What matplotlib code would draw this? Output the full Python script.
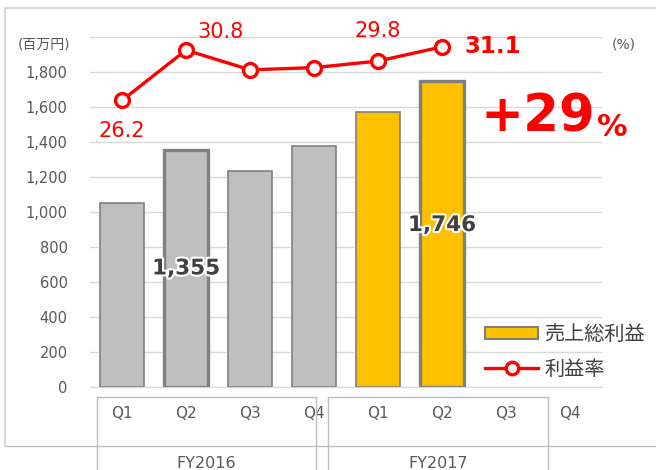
import matplotlib
matplotlib.use("Agg")
import matplotlib.pyplot as plt
import matplotlib.patheffects as pe
from matplotlib.patches import Patch
from matplotlib.lines import Line2D

plt.rcParams['font.family'] = ['DejaVu Sans', 'Noto Sans CJK JP']

W, H = 656, 470

quarters = ['Q1', 'Q2', 'Q3', 'Q4', 'Q1', 'Q2', 'Q3', 'Q4']
years = ['FY2016', 'FY2017']
gross_profit = [1053, 1355, 1236, 1377, 1573, 1746]
profit_rate = [26.2, 30.8, 29.0, 29.2, 29.8, 31.1]
bar_colors = ['#BFBFBF'] * 4 + ['#FFC000'] * 2
bar_lw = [1.2, 2.4, 1.2, 1.2, 1.2, 2.4]
gp_labels = {1: '1,355', 5: '1,746'}
rate_labels = {0: '26.2', 1: '30.8', 4: '29.8', 5: '31.1'}

GRAY_TXT = '#595959'
RED = '#FF0000'


def px(x, y):
    return x / W, 1 - y / H


fig = plt.figure(figsize=(W / 100, H / 100), dpi=100)
ax = fig.add_axes([90 / W, 1 - 387 / H, 512 / W, 350 / H])

x = list(range(len(gross_profit)))
ax.bar(x, gross_profit, width=0.7, color=bar_colors, edgecolor='#7F7F7F',
       linewidth=bar_lw, zorder=2)
ax.set_xlim(-0.5, 7.5)
ax.set_ylim(0, 2000)
ax.set_yticks(range(0, 2001, 200))
ax.set_yticklabels([f'{v:,}' if v < 2000 else '' for v in range(0, 2001, 200)],
                   fontsize=10.5, color=GRAY_TXT)
ax.set_xticks(range(8))
ax.set_xticklabels(quarters, fontsize=11, color=GRAY_TXT)
ax.tick_params(axis='y', length=0, pad=16)
ax.tick_params(axis='x', length=0, pad=14)
ax.yaxis.grid(True, color='#D9D9D9', linewidth=1)
ax.set_axisbelow(True)
for s in ['top', 'right', 'left']:
    ax.spines[s].set_visible(False)
ax.spines['bottom'].set_color('#D9D9D9')

for i, txt in gp_labels.items():
    frac = 0.5 if i == 1 else 0.53
    ax.text(i, gross_profit[i] * frac, txt, ha='center', va='center',
            fontsize=15.5, fontweight='bold', color='#404040', zorder=5,
            path_effects=[pe.withStroke(linewidth=3, foreground='white')])

ax2 = ax.twinx()
ax2.set_ylim(0, 32)
ax2.set_yticks([])
for s in ax2.spines.values():
    s.set_visible(False)
ax2.plot(range(len(profit_rate)), profit_rate, color=RED, linewidth=2.4,
         marker='o', markersize=10, markerfacecolor='white',
         markeredgecolor=RED, markeredgewidth=2.4, zorder=4)

offsets = {0: (0, -22), 1: (25, 13), 4: (0, 22), 5: (16, 0)}
for i, txt in rate_labels.items():
    dx, dy = offsets[i]
    bold = i == 5
    ax2.annotate(txt, (i, profit_rate[i]), xytext=(dx, dy),
                 textcoords='offset points',
                 ha='left' if bold else 'center', va='center',
                 fontsize=16.5 if bold else 15, color=RED,
                 fontweight='bold' if bold else 'normal')

# growth callout, "%" set smaller right after the number
big = fig.text(*px(481, 131), '+29', fontsize=37, fontweight='bold',
               color=RED, ha='left', va='baseline')
fig.add_artist(plt.Annotation('%', xy=(1, 0), xycoords=big, xytext=(1, 0),
                              textcoords='offset points', fontsize=22,
                              fontweight='bold', color=RED, ha='left',
                              va='bottom'))

fig.text(*px(44, 45), '(百万円)', fontsize=10, color=GRAY_TXT,
         ha='center', va='center')
fig.text(*px(624, 45), '(%)', fontsize=10, color=GRAY_TXT,
         ha='center', va='center')

handles = [Patch(facecolor='#FFC000', edgecolor='#7F7F7F', linewidth=1.5),
           Line2D([], [], color=RED, linewidth=2.4, marker='o', markersize=9,
                  markerfacecolor='white', markeredgecolor=RED,
                  markeredgewidth=2.4)]
fig.legend(handles, ['売上総利益', '利益率'], loc='upper left',
           bbox_to_anchor=px(485, 325), frameon=False, fontsize=14.5,
           handlelength=2.65, handleheight=0.6, handletextpad=0.3,
           labelspacing=0.8, labelcolor='#404040', borderpad=0,
           borderaxespad=0)

# category group boxes and frame
line_kw = dict(color='#BFBFBF', linewidth=1, transform=fig.transFigure)
for x0, x1, label in [(97, 316, years[0]), (328, 548, years[1])]:
    fig.add_artist(Line2D([x0 / W, x1 / W], [1 - 397 / H] * 2, **line_kw))
    for xx in (x0, x1):
        fig.add_artist(Line2D([xx / W] * 2, [1 - 397 / H, 0], **line_kw))
    fig.text(*px((x0 + x1) / 2, 464), label, fontsize=11.5, color=GRAY_TXT,
             ha='center', va='center')
fig.add_artist(Line2D([5 / W, 1], [1 - 446 / H] * 2, **line_kw))
fig.add_artist(Line2D([5 / W, 1], [1 - 8 / H] * 2, color='#D9D9D9',
                      linewidth=1.5, transform=fig.transFigure))
fig.add_artist(Line2D([5 / W] * 2, [1 - 8 / H, 1 - 446 / H], color='#D9D9D9',
                      linewidth=1.5, transform=fig.transFigure))

fig.savefig('out.png', dpi=100)
